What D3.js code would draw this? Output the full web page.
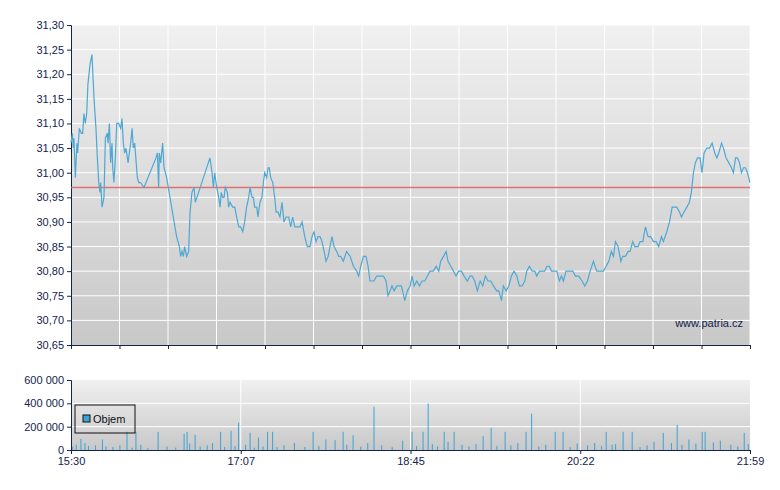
<!DOCTYPE html>
<html>
<head>
  <script src="https://cdn.jsdelivr.net/npm/d3@7/dist/d3.min.js"></script>
  <style>
    body { margin: 0; background: #fff; }
    text { font-family: "Liberation Sans", Arial, sans-serif; }
  </style>
</head>
<body>
  <svg width="780" height="490" id="chart"></svg>
  <script>
    // minutes after 15:30 and price
    const priceMinutes = [0,0.8,1.3,1.7,2.5,3.4,3.8,4.8,5.9,6.7,7.4,8.2,9.0,9.7,10.9,12.0,13.2,14.3,15.1,15.9,16.6,17.0,17.8,18.9,19.7,20.8,21.2,22.0,22.7,23.5,23.9,24.6,25.4,26.2,27.3,28.5,29.2,30.0,30.7,31.5,32.7,33.4,34.2,35.0,35.7,36.5,38.0,38.8,39.9,41.8,48.7,49.5,50.2,50.6,51.4,52.5,53.3,54.8,56.7,58.6,60.5,62.1,62.8,63.6,64.4,65.1,66.3,67.4,68.2,69.3,70.5,71.2,73.1,79.6,80.8,81.6,82.3,83.5,84.6,85.4,86.1,86.9,87.7,88.4,89.6,90.3,91.1,92.6,93.8,94.9,96.1,97.2,98.4,99.5,100.6,101.8,102.6,103.7,104.5,105.2,106.4,107.1,108.3,109.4,110.2,111.0,112.1,112.9,113.6,114.4,115.6,116.7,117.5,118.6,119.7,120.9,122.0,123.2,124.7,125.9,127.0,128.2,129.3,131.2,132.4,133.9,135.4,136.9,138.1,139.2,140.4,141.5,142.7,143.8,145.0,146.1,147.3,148.4,149.5,150.7,152.2,153.4,154.5,156.0,157.9,159.9,161.8,163.7,164.8,166.0,167.5,169.0,170.2,171.3,172.5,173.6,175.1,177.0,179.0,180.5,181.6,182.8,
      183.9,185.1,186.6,189.3,191.2,192.7,194.3,195.4,196.6,198.1,199.6,201.1,202.7,204.2,205.7,207.6,209.2,210.7,211.8,213.4,214.9,216.0,217.6,219.1,220.6,222.1,223.7,225.2,227.1,228.6,229.8,231.3,232.8,234.4,235.9,237.4,238.9,240.5,242.0,243.9,245.1,246.6,247.7,249.3,250.8,252.3,253.8,255.4,256.9,258.4,260.0,261.1,262.6,264.2,265.7,266.8,268.4,269.9,271.4,272.6,274.1,275.2,277.1,278.3,279.8,281.0,282.1,283.6,285.9,287.5,289.0,290.9,292.8,294.3,295.9,297.4,299.3,301.2,305.0,306.6,308.1,309.6,310.8,311.9,313.4,315.0,316.1,317.6,319.2,320.3,321.8,323.0,324.9,326.0,327.6,329.1,330.6,332.1,333.7,335.2,336.7,338.3,339.4,341.3,342.9,344.4,345.5,347.0,348.6,349.7,351.2,352.8,354.3,355.4,356.6,357.7,358.9,360.4,361.5,362.7,364.2,365.8,367.3,368.8,370.0,371.1,372.7,373.8,375.3,376.9,378.4,379.5,380.7,381.8,383.0,384.1,385.3,386.4,387.5,389];
    const priceValues = [31.06,31.08,31.05,31.07,30.99,31.06,31.04,31.09,31.08,31.08,31.12,31.10,31.12,31.18,31.22,31.24,31.15,31.09,31.03,30.98,30.96,30.98,30.93,30.95,31.07,31.08,31.06,31.10,31.02,31.06,31.01,30.98,31.03,31.10,31.10,31.09,31.11,31.06,31.04,31.05,31.02,31.04,31.06,31.09,31.05,31.06,30.99,30.98,30.98,30.97,31.03,31.04,30.97,31.04,31.02,31.06,31.01,30.99,30.95,30.91,30.87,30.85,30.83,30.84,30.83,30.85,30.83,30.84,30.92,30.96,30.97,30.94,30.96,31.03,31.00,30.97,31.00,30.97,30.95,30.93,30.96,30.95,30.95,30.97,30.96,30.93,30.94,30.93,30.93,30.91,30.89,30.89,30.88,30.90,30.93,30.95,30.97,30.95,30.95,30.93,30.93,30.91,30.94,30.95,30.98,31.00,30.99,31.01,31.01,30.99,30.98,30.95,30.92,30.92,30.91,30.94,30.90,30.91,30.91,30.89,30.91,30.89,30.89,30.89,30.90,30.87,30.85,30.85,30.87,30.88,30.86,30.87,30.87,30.86,30.84,30.82,30.83,30.85,30.87,30.85,30.84,30.83,30.83,30.82,30.84,30.83,30.81,30.80,30.79,30.81,30.83,30.83,30.81,30.78,30.78,30.78,30.79,30.79,30.79,30.78,30.75,30.76,
      30.77,30.76,30.77,30.77,30.74,30.76,30.77,30.79,30.77,30.78,30.77,30.78,30.78,30.79,30.80,30.80,30.81,30.80,30.82,30.83,30.84,30.82,30.81,30.80,30.79,30.80,30.80,30.79,30.78,30.79,30.79,30.78,30.76,30.78,30.77,30.79,30.78,30.78,30.77,30.76,30.76,30.74,30.77,30.76,30.77,30.79,30.80,30.79,30.77,30.77,30.78,30.80,30.81,30.80,30.80,30.79,30.80,30.80,30.80,30.81,30.81,30.80,30.80,30.80,30.78,30.79,30.78,30.80,30.80,30.80,30.79,30.79,30.78,30.77,30.78,30.80,30.82,30.80,30.80,30.81,30.82,30.84,30.83,30.86,30.85,30.82,30.83,30.83,30.84,30.84,30.86,30.85,30.85,30.86,30.86,30.89,30.87,30.87,30.86,30.86,30.85,30.87,30.86,30.88,30.90,30.93,30.93,30.93,30.92,30.91,30.92,30.93,30.94,30.96,31.00,31.02,31.03,31.03,31.00,31.04,31.05,31.05,31.06,31.04,31.03,31.04,31.06,31.05,31.03,31.02,31.01,31.00,31.03,31.03,31.02,31.00,31.01,31.01,31.00,30.98];
    const refPrice = 30.97;

    const volMinutes = [5.7,32.1,37.2,49.9,64.8,66.5,71.1,81.1,85.7,91.7,96.0,102.6,107.4,112.6,115.5,138.7,151.3,155.9,161.6,173.6,195.4,201.7,204.6,213.8,219.5,236.1,240.7,248.7,260.7,263.9,277.4,281.9,306.6,316.3,321.5,339.3,347.3,361.6,363.3,385.7,
      1,3,8,10,14,18,20,24,28,35,40,44,55,60,68,74,78,88,94,100,105,110,118,122,128,134,142,146,158,166,170,178,184,190,198,207,210,216,224,228,232,244,252,256,268,272,286,290,296,300,304,310,312,326,330,334,344,350,354,358,368,372,378,382,388];
    const volValues = [95000,156000,156000,156000,139000,156000,130000,60000,156000,165000,234000,147000,107000,156000,156000,156000,84000,156000,127000,370000,156000,156000,398000,156000,156000,121000,190000,156000,156000,312000,156000,156000,156000,156000,156000,147000,216000,156000,156000,147000,
      30000,45000,60000,35000,40000,90000,30000,25000,40000,20000,45000,15000,30000,20000,55000,30000,40000,25000,35000,45000,20000,30000,25000,40000,60000,25000,35000,90000,45000,30000,60000,40000,25000,80000,35000,50000,30000,70000,45000,30000,50000,35000,40000,60000,30000,45000,25000,55000,40000,60000,35000,45000,50000,25000,40000,70000,60000,45000,90000,55000,65000,80000,45000,30000,50000];

    const priceTicks = d3.range(30.65, 31.301, 0.05);
    const volTicks = [0, 200000, 400000, 600000];
    const timeLabels = ['15:30', '17:07', '18:45', '20:22', '21:59'];

    const svg = d3.select('#chart');
    const left = 71, right = 750;
    const navy = '#13234d';

    const defs = svg.append('defs');
    const grad = defs.append('linearGradient').attr('id', 'bg').attr('x1', 0).attr('y1', 0).attr('x2', 0).attr('y2', 1);
    grad.append('stop').attr('offset', '0%').attr('stop-color', '#f0f0f0');
    grad.append('stop').attr('offset', '100%').attr('stop-color', '#c8c8c8');

    const xScale = d3.scaleLinear().domain([0, 389]).range([left, right]);
    const yPrice = d3.scaleLinear().domain([30.65, 31.30]).range([345, 25]);
    const yVol = d3.scaleLinear().domain([0, 600000]).range([450, 380]);

    // price panel
    svg.append('rect').attr('x', left).attr('y', 25).attr('width', right - left).attr('height', 320).attr('fill', 'url(#bg)');
    const gridX = d3.range(0, 15).map(i => 389 * i / 14);
    svg.append('g').selectAll('line.v').data(gridX.slice(1)).join('line')
      .attr('x1', d => xScale(d)).attr('x2', d => xScale(d)).attr('y1', 25).attr('y2', 345)
      .attr('stroke', '#fff').attr('stroke-width', 1);
    svg.append('g').selectAll('line.h').data(priceTicks.slice(1)).join('line')
      .attr('x1', left).attr('x2', right).attr('y1', d => yPrice(d)).attr('y2', d => yPrice(d))
      .attr('stroke', '#fff').attr('stroke-width', 1);

    const yAxis = d3.axisLeft(yPrice).tickValues(priceTicks).tickSize(4)
      .tickFormat(d => d3.format('.2f')(d).replace('.', ','));
    const ya = svg.append('g').attr('transform', `translate(${left},0)`).call(yAxis);
    const xAxis = d3.axisBottom(xScale).tickValues(gridX).tickSize(4).tickFormat('');
    const xa = svg.append('g').attr('transform', 'translate(0,345)').call(xAxis);

    svg.append('line').attr('x1', left).attr('x2', right).attr('y1', yPrice(refPrice)).attr('y2', yPrice(refPrice))
      .attr('stroke', '#e06060').attr('stroke-width', 1.5).attr('opacity', 0.85);

    const pts = priceMinutes.map((m, i) => [m, priceValues[i]]);
    svg.append('path').datum(pts)
      .attr('d', d3.line().x(d => xScale(d[0])).y(d => yPrice(d[1])))
      .attr('fill', 'none').attr('stroke', '#4ea8d4').attr('stroke-width', 1.2);

    svg.append('text').attr('x', 743).attr('y', 327).attr('text-anchor', 'end')
      .attr('font-size', 11).attr('fill', navy).text('www.patria.cz');

    // volume panel
    svg.append('rect').attr('x', left).attr('y', 380).attr('width', right - left).attr('height', 70).attr('fill', 'url(#bg)');
    svg.append('g').selectAll('line').data([97.25, 194.5, 291.75]).join('line')
      .attr('x1', d => xScale(d)).attr('x2', d => xScale(d)).attr('y1', 380).attr('y2', 450)
      .attr('stroke', '#fff');
    svg.append('g').selectAll('line').data([200000, 400000]).join('line')
      .attr('x1', left).attr('x2', right).attr('y1', d => yVol(d)).attr('y2', d => yVol(d))
      .attr('stroke', '#fff');

    svg.append('g').selectAll('rect').data(volMinutes.map((m, i) => [m, volValues[i]])).join('rect')
      .attr('x', d => xScale(d[0]) - 0.5).attr('width', 1)
      .attr('y', d => yVol(d[1])).attr('height', d => yVol(0) - yVol(d[1]))
      .attr('fill', '#3da3d6');

    const yva = svg.append('g').attr('transform', `translate(${left},0)`)
      .call(d3.axisLeft(yVol).tickValues(volTicks).tickSize(4)
        .tickFormat(d => d3.format(',')(d).replace(/,/g, ' ')));
    const xva = svg.append('g').attr('transform', 'translate(0,450)')
      .call(d3.axisBottom(xScale).tickValues([0, 97.25, 194.5, 291.75, 389]).tickSize(4)
        .tickFormat((d, i) => timeLabels[i]));

    [ya, xa, yva, xva].forEach(a => {
      a.selectAll('path,line').attr('stroke', navy);
      a.selectAll('text').attr('fill', navy).attr('font-size', 11)
        .attr('font-family', '"Liberation Sans", Arial, sans-serif');
    });

    // legend
    const lg = svg.append('g').attr('transform', 'translate(75,405)');
    lg.append('rect').attr('width', 60).attr('height', 28).attr('fill', 'none').attr('stroke', '#111');
    lg.append('rect').attr('x', 8).attr('y', 10).attr('width', 7).attr('height', 7)
      .attr('fill', '#3da3d6').attr('stroke', '#111');
    lg.append('text').attr('x', 18).attr('y', 18).attr('font-size', 11).attr('fill', '#111').text('Objem');
  </script>
</body>
</html>
